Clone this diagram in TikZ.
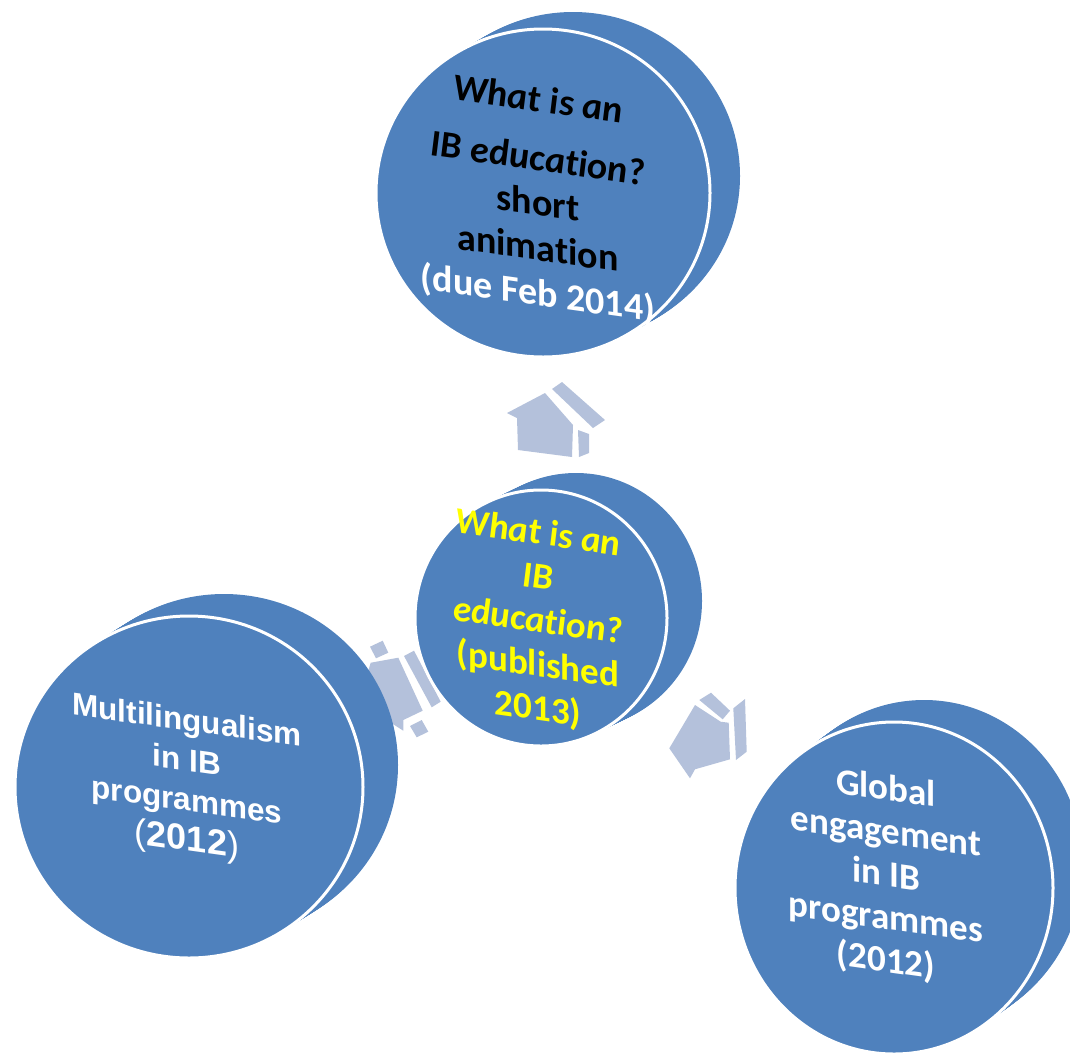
\documentclass[tikz,border=0pt]{standalone}
\usepackage{fontspec}
\usetikzlibrary{shapes.geometric}
\newfontfamily\calibri[Ligatures=NoCommon]{Carlito}
\newfontfamily\arialf{Liberation Sans}
\definecolor{discblue}{RGB}{79,129,189}
\definecolor{arrowc}{RGB}{180,193,219}
\definecolor{ylw}{RGB}{255,255,0}
\tikzset{
  face/.style={ellipse, fill=discblue, draw=white, line width=3pt, inner sep=0pt},
  blockarrow/.style={fill=arrowc},
  disctext/.style={align=center, yslant=-0.14, inner sep=0pt},
}
\newcommand\discbody[6]{%
  \foreach \t in {0,0.05,...,1.001}
    \fill[discblue] ({#1+\t*(#5)},{#2+\t*(#6)}) ellipse [x radius=#3pt, y radius=#4pt];
}
\begin{document}
\begin{tikzpicture}[x=1pt,y=-1pt]
\useasboundingbox (0,0) rectangle (1070,1061);
\clip (0,0) rectangle (1070,1061);

% ---- block arrows ----
% up arrow
\fill[blockarrow] (507,413) -- (545,393) -- (573,425) -- (572,457) -- (518,450) -- (517,418) -- cycle;
\fill[blockarrow] (552,389) -- (562,382) -- (605,420) -- (593,428) -- cycle;
\fill[blockarrow] (578,430) -- (589,434) -- (589,453) -- (579,457) -- cycle;
% left arrow
\fill[blockarrow] (370.7,662.7) -- (398.3,657.7) -- (422.7,710.7) -- (403.3,720) -- (403.3,730.7) -- (366.7,707.3) -- (364,685) -- cycle;
\fill[blockarrow] (370,646.7) -- (382.7,640.7) -- (388.3,652.7) -- (376,658.3) -- cycle;
\fill[blockarrow] (404,656) -- (414,650.7) -- (440.7,701.7) -- (431.7,707.3) -- cycle;
\fill[blockarrow] (410,726) -- (421.7,720) -- (428.3,731.7) -- (416.7,737.3) -- cycle;
% right arrow
\fill[blockarrow] (669.3,748.3) -- (695,705) -- (720.7,721.7) -- (728.7,722.7) -- (730,759.3) -- (695,769.3) -- (690,778.3) -- cycle;
\fill[blockarrow] (699.3,700) -- (711,692.7) -- (730,710.7) -- (722.7,719.3) -- cycle;
\fill[blockarrow] (733.3,708.3) -- (745,699) -- (746.7,751.7) -- (736,760) -- cycle;

% ---- discs ----
\discbody{543}{193}{167}{164}{30}{-17}
\node[face, minimum width=334pt, minimum height=328pt] (topdisc) at (543,193) {};
\discbody{541}{618}{126}{128}{35}{-17}
\node[face, minimum width=252pt, minimum height=256pt] (centerdisc) at (541,618) {};
\discbody{189}{787}{174}{171}{35}{-22}
\node[face, minimum width=348pt, minimum height=342pt] (leftdisc) at (189,787) {};
\discbody{894}{888}{159}{166}{30}{-22}
\node[face, minimum width=318pt, minimum height=332pt] (rightdisc) at (894,888) {};

% ---- texts ----
\node[disctext, font=\calibri\bfseries\fontsize{38}{45}\selectfont] (toptext) at (538,198)
  {\itshape What is an\\[14pt] \itshape IB education?\\ short\\ animation\\ \color{white}(due Feb 2014)};
\node[disctext, text=ylw, font=\calibri\bfseries\fontsize{37}{44}\selectfont] (centertext) at (538,622)
  {\itshape What is an\\ \itshape IB\\ \itshape education?\\ (published\\ 2013)};
\node[disctext, text=white, font=\arialf\bfseries\fontsize{31.5}{40}\selectfont] (lefttext) at (187,783)
  {Multilingualism\\ in IB\\ programmes\\ {\fontsize{36}{40}\selectfont\mdseries(\bfseries 2012\mdseries)}};
\node[disctext, text=white, font=\calibri\bfseries\fontsize{37}{43}\selectfont] (righttext) at (886,876)
  {Global\\ engagement\\ in IB\\ programmes\\ (2012)};
\end{tikzpicture}
\end{document}
